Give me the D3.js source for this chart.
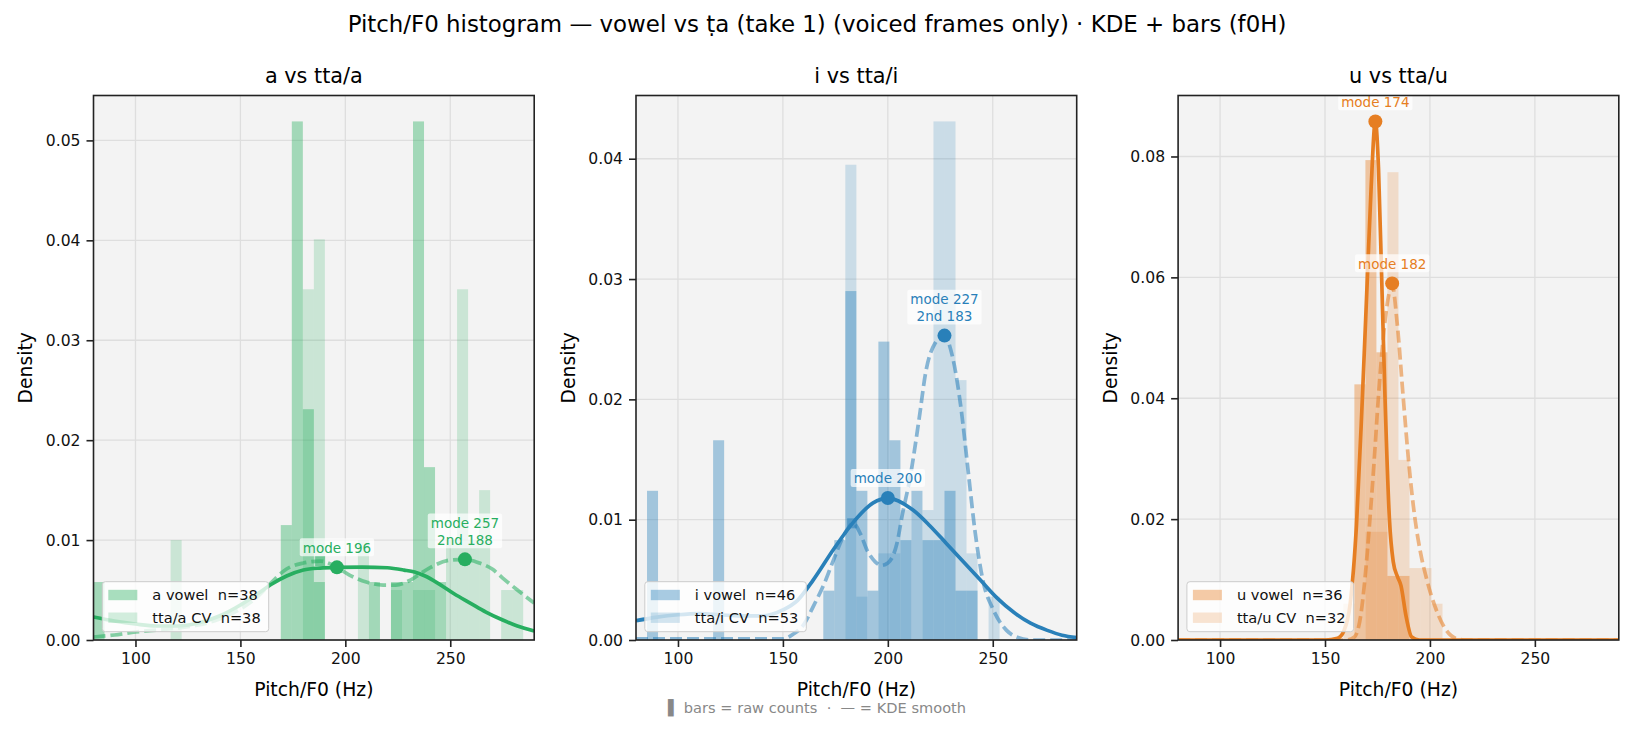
<!DOCTYPE html>
<html>
<head>
<meta charset="utf-8">
<script src="https://cdn.jsdelivr.net/npm/d3@7"></script>
<style>
  body { margin: 0; background: #fff; }
  svg text { font-family: "DejaVu Sans", sans-serif; }
</style>
</head>
<body>
<div id="chart"></div>
<script>
// shared histogram bins: 40 bins between 80 and 290 Hz
var binLo = 80, binHi = 290, binCount = 40;
var xTicks = [100, 150, 200, 250];

// ---- a vs tta/a ----
var aVowelBars = [0.0058, 0, 0, 0, 0, 0, 0, 0, 0, 0,
                  0, 0, 0, 0, 0, 0, 0, 0.0115, 0.0519, 0.0231,
                  0.0058, 0, 0, 0, 0, 0.0058, 0, 0.0058, 0.0058, 0.0519,
                  0.0173, 0.0058, 0, 0, 0, 0, 0, 0, 0, 0];
var aTtaBars = [0, 0, 0, 0, 0, 0, 0, 0.0100, 0, 0,
                0, 0, 0, 0, 0, 0, 0, 0, 0, 0.0351,
                0.0401, 0, 0, 0, 0.0100, 0, 0, 0.0050, 0, 0.0050,
                0.0050, 0, 0.0100, 0.0351, 0.0100, 0.0150, 0, 0.0050, 0.0050, 0];
var aVowelKde = [[80, 0.0023], [90, 0.0019], [100, 0.0016], [110, 0.0014], [120, 0.0014], [130, 0.0017],
                 [140, 0.0024], [150, 0.0035], [158, 0.0046], [165, 0.0056], [172, 0.0064], [180, 0.0070],
                 [188, 0.0072], [196, 0.00727], [208, 0.0073], [220, 0.00723], [228, 0.0070], [233, 0.0068],
                 [238, 0.0064], [244, 0.0057], [252, 0.0046], [259.5, 0.0037], [267, 0.0028], [275, 0.0020],
                 [282, 0.0014], [290, 0.0009]];
var aTtaKde = [[80, 0.0003], [90, 0.0005], [100, 0.0008], [110, 0.0010], [120, 0.0012], [130, 0.0015],
               [140, 0.0021], [150, 0.0031], [158, 0.0043], [165, 0.0058], [172, 0.0071], [180, 0.0077],
               [188, 0.0079], [195, 0.0074], [202, 0.0065], [210, 0.0058], [218, 0.0055], [224, 0.0055],
               [231, 0.0060], [240, 0.0072], [250, 0.0080], [257, 0.00807], [264, 0.0077], [270, 0.0071],
               [275, 0.0062], [282, 0.0050], [290, 0.0037]];
var aVowelPeak = [196, 0.00727];
var aTtaPeak = [257, 0.00807];
var aTtaSecond = [188, 0.0079];

// ---- i vs tta/i ----
var iVowelBars = [0, 0.0124, 0, 0, 0, 0, 0, 0.0166, 0, 0,
                  0, 0, 0, 0, 0, 0, 0, 0.0041, 0.0083, 0.0290,
                  0.0124, 0.0041, 0.0248, 0.0166, 0.0083, 0.0124, 0.0083, 0.0083, 0.0124, 0.0041,
                  0.0041, 0, 0, 0, 0, 0, 0, 0, 0, 0];
var iTtaBars = [0, 0, 0, 0, 0, 0, 0, 0, 0, 0,
                0, 0, 0, 0, 0, 0, 0, 0, 0, 0.0395,
                0.0036, 0, 0.0072, 0.0072, 0.0108, 0, 0.0108, 0.0431, 0.0431, 0.0216,
                0.0072, 0, 0.0036, 0, 0, 0, 0, 0, 0, 0];
var iVowelKde = [[80, 0.0016], [90, 0.0019], [100, 0.0021], [110, 0.0022], [120, 0.0021], [130, 0.0020],
                 [140, 0.0020], [150, 0.0025], [157, 0.0033], [164.5, 0.0050], [174, 0.0075], [183.6, 0.0098],
                 [193, 0.0114], [200, 0.0118], [212, 0.0108], [220, 0.0095], [228, 0.0080], [236, 0.0065],
                 [244, 0.0050], [252, 0.0035], [260, 0.0023], [268, 0.0014], [276, 0.0008], [283, 0.0004],
                 [290, 0.0002]];
var iTtaKde = [[80, 0.0001], [150, 0.0001], [155, 0.0005], [160, 0.0013], [164.5, 0.0028], [170, 0.0048],
               [174, 0.0066], [180.3, 0.0091], [183.5, 0.0097], [187, 0.0088], [190, 0.0075], [194, 0.0065],
               [197, 0.0062], [200, 0.0064], [204.3, 0.0080], [207, 0.0105], [210.6, 0.0135], [215, 0.0185],
               [218, 0.0222], [222.3, 0.0246], [226.8, 0.0253], [231, 0.0234], [235, 0.0191], [238.3, 0.0140],
               [241.5, 0.0091], [245.5, 0.0048], [250.3, 0.0025], [256.6, 0.0008], [262, 0.0002], [268, 0],
               [290, 0]];
var iVowelPeak = [200, 0.0118];
var iTtaPeak = [227, 0.0253];
var iTtaSecond = [183, 0.0097];

// ---- u vs tta/u ----
var uVowelBars = [0, 0, 0, 0, 0, 0, 0, 0, 0, 0,
                  0, 0, 0, 0, 0, 0, 0.0423, 0.0794, 0.0476, 0.0106,
                  0.0106, 0, 0, 0, 0, 0, 0, 0, 0, 0,
                  0, 0, 0, 0, 0, 0, 0, 0, 0, 0];
var uTtaBars = [0, 0, 0, 0, 0, 0, 0, 0, 0, 0,
                0, 0, 0, 0, 0, 0.0060, 0, 0.0179, 0.0179, 0.0774,
                0.0298, 0.0119, 0.0119, 0.0060, 0, 0, 0, 0, 0, 0,
                0, 0, 0, 0, 0, 0, 0, 0, 0, 0];
var uVowelKde = [[80, 0], [150, 0], [156, 0.0003], [159, 0.0015], [162, 0.0060], [165, 0.0190],
                 [167.8, 0.0400], [170.2, 0.0600], [172, 0.0750], [174, 0.0858], [175.5, 0.0780],
                 [177, 0.0600], [178.6, 0.0400], [180.7, 0.0200], [182.5, 0.0130], [184.5, 0.0105],
                 [186.2, 0.0090], [188.6, 0.0040], [191.3, 0.0005], [195, 0], [290, 0]];
var uTtaKde = [[80, 0], [160, 0], [164, 0.0005], [167, 0.0040], [169, 0.0100], [171.4, 0.0200],
               [173.5, 0.0300], [175.4, 0.0400], [177.5, 0.0490], [179.4, 0.0550], [182, 0.0587],
               [184.5, 0.0520], [187.3, 0.0400], [190, 0.0290], [192.9, 0.0200], [195.5, 0.0145],
               [198.5, 0.0100], [203, 0.0050], [208, 0.0015], [213, 0.0002], [218, 0], [290, 0]];
var uVowelPeak = [174, 0.0858];
var uTtaPeak = [182, 0.0590];

var yTicksA = [0, 0.01, 0.02, 0.03, 0.04, 0.05];
var yTicksI = [0, 0.01, 0.02, 0.03, 0.04];
var yTicksU = [0, 0.02, 0.04, 0.06, 0.08];

// legend names keep the double gap before n= (second one is a no-break space)
var panels = [
    {title: "a vs tta/a", color: "#27ae60", vowelName: "a vowel \u00a0n=38", ttaName: "tta/a CV \u00a0n=38",
     vowelBars: aVowelBars, ttaBars: aTtaBars, vowelKde: aVowelKde, ttaKde: aTtaKde,
     vowelPeak: aVowelPeak, ttaPeak: aTtaPeak, ttaSecond: aTtaSecond, yTicks: yTicksA},
    {title: "i vs tta/i", color: "#2980b9", vowelName: "i vowel \u00a0n=46", ttaName: "tta/i CV \u00a0n=53",
     vowelBars: iVowelBars, ttaBars: iTtaBars, vowelKde: iVowelKde, ttaKde: iTtaKde,
     vowelPeak: iVowelPeak, ttaPeak: iTtaPeak, ttaSecond: iTtaSecond, yTicks: yTicksI},
    {title: "u vs tta/u", color: "#e67e22", vowelName: "u vowel \u00a0n=36", ttaName: "tta/u CV \u00a0n=32",
     vowelBars: uVowelBars, ttaBars: uTtaBars, vowelKde: uVowelKde, ttaKde: uTtaKde,
     vowelPeak: uVowelPeak, ttaPeak: uTtaPeak, ttaSecond: null, yTicks: yTicksU}
];

var width = 1634, height = 732;
var panelTop = 95.5, panelBottom = 640, panelWidth = 440.7;
var panelLefts = [93.5, 636, 1178.1];

var svg = d3.select("#chart")
    .append("svg")
    .attr("width", width)
    .attr("height", height);

svg.append("text")
    .attr("x", 817)
    .attr("y", 32)
    .attr("text-anchor", "middle")
    .style("font-size", "22.9px")
    .text("Pitch/F0 histogram \u2014 vowel vs \u1e6da (take 1) (voiced frames only) \u00b7 KDE + bars (f0H)");

svg.append("text")
    .attr("x", 817)
    .attr("y", 712.5)
    .attr("text-anchor", "middle")
    .attr("fill", "#888888")
    .style("font-size", "14.6px")
    .text("\u258c bars = raw counts \u00a0\u00b7\u00a0 \u2014 = KDE smooth");

// bin edges
var edges = d3.range(binCount + 1).map(function (k) {
    return binLo + k * (binHi - binLo) / binCount;
});

panels.forEach(function (p, i) {
    drawPanel(p, panelLefts[i], i);
});

function drawPanel(p, left, idx) {
    var w = panelWidth, h = panelBottom - panelTop;
    var g = svg.append("g").attr("transform", "translate(" + left + "," + panelTop + ")");

    var x = d3.scaleLinear().domain([binLo, binHi]).range([0, w]);
    var allVals = p.vowelBars.concat(p.ttaBars,
        p.vowelKde.map(function (d) { return d[1]; }),
        p.ttaKde.map(function (d) { return d[1]; }));
    var y = d3.scaleLinear().domain([0, d3.max(allVals) * 1.05]).range([h, 0]);

    // axes background
    g.append("rect").attr("width", w).attr("height", h).attr("fill", "#f3f3f3");

    // grid
    g.append("g").selectAll("line").data(xTicks).enter().append("line")
        .attr("x1", function (d) { return x(d); }).attr("x2", function (d) { return x(d); })
        .attr("y1", 0).attr("y2", h)
        .attr("stroke", "#dedede").attr("stroke-width", 1.3);
    g.append("g").selectAll("line").data(p.yTicks).enter().append("line")
        .attr("x1", 0).attr("x2", w)
        .attr("y1", function (d) { return y(d); }).attr("y2", function (d) { return y(d); })
        .attr("stroke", "#dedede").attr("stroke-width", 1.3);

    g.append("clipPath").attr("id", "clip" + idx)
        .append("rect").attr("width", w).attr("height", h);
    var plot = g.append("g").attr("clip-path", "url(#clip" + idx + ")");

    function barData(arr) {
        return arr.map(function (v, k) { return {k: k, v: v}; })
            .filter(function (d) { return d.v > 0; });
    }

    // vowel bars, then tta bars
    plot.append("g").selectAll("rect").data(barData(p.vowelBars)).enter().append("rect")
        .attr("x", function (d) { return x(edges[d.k]); })
        .attr("width", function (d) { return x(edges[d.k + 1]) - x(edges[d.k]); })
        .attr("y", function (d) { return y(d.v); })
        .attr("height", function (d) { return h - y(d.v); })
        .attr("fill", p.color).attr("fill-opacity", 0.4);
    plot.append("g").selectAll("rect").data(barData(p.ttaBars)).enter().append("rect")
        .attr("x", function (d) { return x(edges[d.k]); })
        .attr("width", function (d) { return x(edges[d.k + 1]) - x(edges[d.k]); })
        .attr("y", function (d) { return y(d.v); })
        .attr("height", function (d) { return h - y(d.v); })
        .attr("fill", p.color).attr("fill-opacity", 0.2);

    // KDE curves
    var line = d3.line()
        .x(function (d) { return x(d[0]); })
        .y(function (d) { return y(d[1]); })
        .curve(d3.curveMonotoneX);
    plot.append("path").datum(p.vowelKde)
        .attr("d", line).attr("fill", "none")
        .attr("stroke", p.color).attr("stroke-width", 3.7);
    plot.append("path").datum(p.ttaKde)
        .attr("d", line).attr("fill", "none")
        .attr("stroke", p.color).attr("stroke-opacity", 0.55)
        .attr("stroke-width", 3.7).attr("stroke-dasharray", "12,5");

    // secondary peak marker (square)
    if (p.ttaSecond) {
        g.append("rect")
            .attr("x", x(p.ttaSecond[0]) - 5).attr("y", y(p.ttaSecond[1]) - 5)
            .attr("width", 10).attr("height", 10)
            .attr("fill", p.color).attr("fill-opacity", 0.55);
    }
    // mode markers
    [p.vowelPeak, p.ttaPeak].forEach(function (pk) {
        g.append("circle").attr("cx", x(pk[0])).attr("cy", y(pk[1])).attr("r", 7)
            .attr("fill", p.color);
    });

    // annotations
    function annotate(pk, lines) {
        var a = g.append("g").attr("transform", "translate(" + x(pk[0]) + "," + y(pk[1]) + ")");
        var box = a.append("rect");
        var t = a.append("g");
        lines.forEach(function (s, j) {
            t.append("text")
                .attr("x", 0)
                .attr("y", -14.6 - (lines.length - 1 - j) * 16.7)
                .attr("text-anchor", "middle")
                .attr("fill", p.color)
                .style("font-size", "13.5px")
                .text(s);
        });
        var bb = t.node().getBBox();
        box.attr("x", bb.x - 3).attr("y", bb.y - 1.5)
            .attr("width", bb.width + 6).attr("height", bb.height + 2)
            .attr("rx", 2).attr("fill", "#ffffff").attr("fill-opacity", 0.7);
    }
    annotate(p.vowelPeak, ["mode " + p.vowelPeak[0]]);
    if (p.ttaSecond) {
        annotate(p.ttaPeak, ["mode " + p.ttaPeak[0], "2nd " + p.ttaSecond[0]]);
    } else {
        annotate(p.ttaPeak, ["mode " + p.ttaPeak[0]]);
    }

    // axes
    var xAxis = g.append("g").attr("transform", "translate(0," + h + ")")
        .call(d3.axisBottom(x).tickValues(xTicks).tickSize(7).tickPadding(6));
    var yAxis = g.append("g")
        .call(d3.axisLeft(y).tickValues(p.yTicks).tickFormat(d3.format(".2f")).tickSize(7).tickPadding(6));
    [xAxis, yAxis].forEach(function (ax) {
        ax.select(".domain").remove();
        ax.selectAll("line").attr("stroke", "#222").attr("stroke-width", 1.6);
        ax.selectAll("text").attr("fill", "#111").style("font-size", "15.6px")
            .attr("font-family", "DejaVu Sans");
        ax.attr("font-family", null).attr("font-size", null);
    });

    // frame
    g.append("rect").attr("width", w).attr("height", h)
        .attr("fill", "none").attr("stroke", "#222").attr("stroke-width", 1.6);

    // labels
    g.append("text").attr("x", w / 2).attr("y", -12.5).attr("text-anchor", "middle")
        .style("font-size", "20.8px").text(p.title);
    g.append("text").attr("x", w / 2).attr("y", h + 56).attr("text-anchor", "middle")
        .style("font-size", "18.75px").text("Pitch/F0 (Hz)");
    g.append("text").attr("transform", "translate(-61.5," + (h / 2) + ") rotate(-90)")
        .attr("text-anchor", "middle")
        .style("font-size", "18.75px").text("Density");

    // legend, lower left
    var lg = g.append("g").attr("transform", "translate(8.8," + (h - 58.3) + ")");
    var frame = lg.append("rect");
    var items = [{name: p.vowelName, op: 0.4}, {name: p.ttaName, op: 0.2}];
    var maxLen = 0;
    items.forEach(function (it, j) {
        var cy = 13.3 + j * 22.7;
        lg.append("rect").attr("x", 6).attr("y", cy - 5.2).attr("width", 29).attr("height", 10.4)
            .attr("fill", p.color).attr("fill-opacity", it.op);
        var t = lg.append("text").attr("x", 50).attr("y", cy + 5.2)
            .style("font-size", "14.6px").attr("fill", "#111").text(it.name);
        maxLen = Math.max(maxLen, t.node().getComputedTextLength());
    });
    frame.attr("width", 50 + maxLen + 8).attr("height", 50).attr("rx", 3)
        .attr("fill", "#ffffff").attr("fill-opacity", 0.8)
        .attr("stroke", "#cccccc").attr("stroke-width", 1);
}
</script>
</body>
</html>
